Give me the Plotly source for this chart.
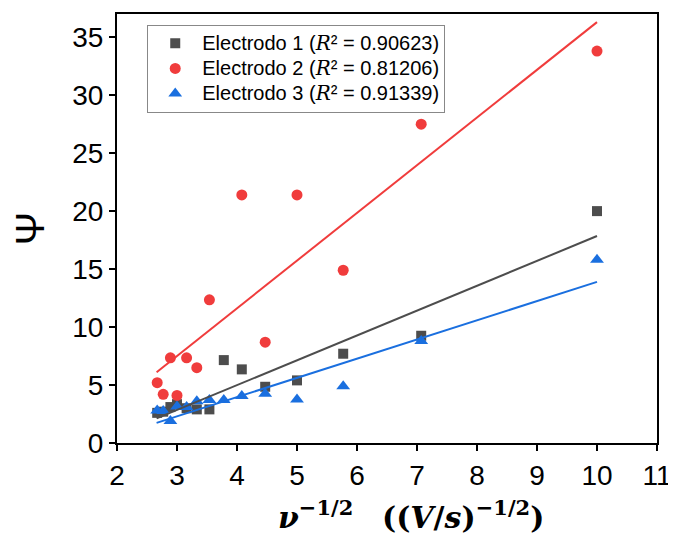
import plotly.graph_objects as go
import numpy as np

# Data
x1 = [2.67, 2.77, 2.89, 3.0, 3.16, 3.33, 3.54, 3.78, 4.08, 4.47, 5.0, 5.77, 7.07, 10.0]
y1 = [2.6, 2.7, 3.1, 3.35, 3.0, 2.9, 2.9, 7.15, 6.35, 4.85, 5.4, 7.7, 9.25, 20.0]

x2 = [2.67, 2.77, 2.89, 3.0, 3.16, 3.33, 3.54, 4.08, 4.47, 5.0, 5.77, 7.07, 10.0]
y2 = [5.2, 4.2, 7.35, 4.1, 7.35, 6.5, 12.35, 21.4, 8.7, 21.4, 14.9, 27.5, 33.8]

x3 = [2.67, 2.77, 2.89, 3.0, 3.16, 3.33, 3.54, 3.78, 4.08, 4.47, 5.0, 5.77, 7.07, 10.0]
y3 = [2.8, 2.75, 1.9, 3.15, 3.1, 3.6, 3.7, 3.7, 4.05, 4.25, 3.75, 4.9, 8.8, 15.8]

# Linear fit parameters (slope, intercept)
fit1 = [2.143, -3.58]
fit2 = [4.114, -4.84]
fit3 = [1.657, -2.67]
fit_range = [2.66, 10.0]

names = ["Electrodo 1", "Electrodo 2", "Electrodo 3"]
r2 = ["0.90623", "0.81206", "0.91339"]

x_title = "<b><i>ν</i></b><sup><b>−1/2</b></sup>   <b>((<i>V</i>/<i>s</i>)</b><sup><b>−1/2</b></sup><b>)</b>"
y_title = "Ψ"

c1 = "#4d4d4d"
c2 = "#f03c3c"
c3 = "#1a6fdf"

fig = go.Figure()

def leg(name, r):
    return ('<span style="font-size:20px">' + name +
            ' (<span style="font-family:\'DejaVu Serif\'"><i>R</i></span>² = ' + r + ")</span>")

series = [(x1, y1, fit1, c1, "square", 10), (x2, y2, fit2, c2, "circle", 11), (x3, y3, fit3, c3, "triangle-up", 12)]

for i, (xs, ys, fit, col, sym, sz) in enumerate(series):
    fig.add_trace(go.Scatter(x=xs, y=ys, mode="markers", name=leg(names[i], r2[i]),
                             marker=dict(symbol=sym, size=sz, color=col, line=dict(width=0))))

for i, (xs, ys, fit, col, sym, sz) in enumerate(series):
    fx = np.array(fit_range)
    fy = fit[0] * fx + fit[1]
    fig.add_trace(go.Scatter(x=fx, y=fy, mode="lines", showlegend=False,
                             line=dict(color=col, width=2)))

axis_common = dict(showline=True, linecolor="black", linewidth=2, mirror=True,
                   ticks="outside", ticklen=6, tickwidth=2, tickcolor="black",
                   showgrid=False, zeroline=False,
                   tickfont=dict(family="Liberation Sans, Arial", size=28, color="black"))

fig.update_xaxes(range=[2, 11], dtick=1, tick0=2, **axis_common)
fig.update_yaxes(range=[0, 37], dtick=5, tick0=0,
                 title=dict(text=y_title, font=dict(family="Liberation Sans, Arial", size=40, color="black"), standoff=18),
                 **axis_common)

fig.add_annotation(text=x_title, xref="paper", yref="paper", x=0.5, y=0, xanchor="center", yanchor="top",
                   xshift=24, yshift=-50, showarrow=False,
                   font=dict(family="DejaVu Serif", size=30, color="black"))

fig.update_layout(
    width=668, height=533,
    margin=dict(l=109, r=19, t=4, b=98),
    plot_bgcolor="white", paper_bgcolor="white",
    legend=dict(x=0.056, y=0.975, xanchor="left", yanchor="top",
                bordercolor="#888888", borderwidth=1, bgcolor="white",
                font=dict(family="Liberation Sans, Arial", size=17, color="black"),
                itemwidth=44, tracegroupgap=0),
)

fig.write_html("out.html")
